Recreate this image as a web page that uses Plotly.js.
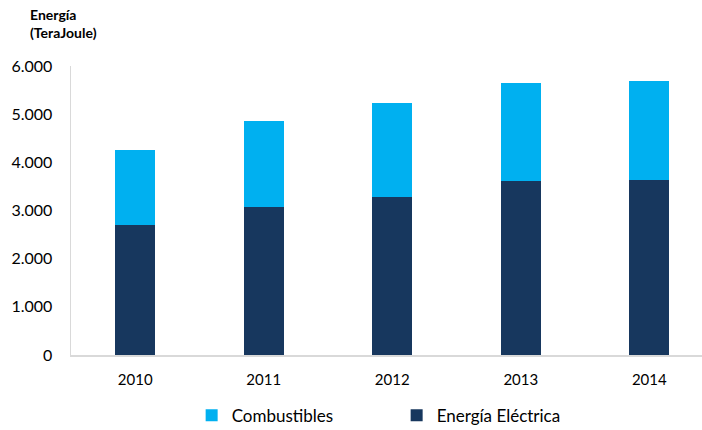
<!DOCTYPE html>
<html>
<head>
<meta charset="utf-8">
<script src="https://cdn.plot.ly/plotly-3.0.1.min.js"></script>
<style>html,body{margin:0;padding:0;background:#fff;}#chart{width:702px;height:430px;}</style>
</head>
<body>
<div id="chart"></div>
<script>
const years = ['2010', '2011', '2012', '2013', '2014'];
const energiaElectrica = [2700, 3070, 3270, 3610, 3630];
const combustibles = [1550, 1790, 1955, 2040, 2065];
const yTicks = [0, 1000, 2000, 3000, 4000, 5000, 6000];

const FONT = 'Lato, "Open Sans", sans-serif';

const traces = [
  {
    type: 'bar', name: 'Energía Eléctrica', x: years, y: energiaElectrica,
    marker: {color: '#17375E', line: {width: 0}}, hoverinfo: 'x+y'
  },
  {
    type: 'bar', name: 'Combustibles', x: years, y: combustibles,
    marker: {color: '#00B0F0', line: {width: 0}}, hoverinfo: 'x+y'
  }
];

const layout = {
  width: 702, height: 430,
  margin: {l: 71, r: 0, t: 66, b: 75},
  barmode: 'stack',
  bargap: 0.69,
  separators: ',.',
  paper_bgcolor: '#ffffff', plot_bgcolor: '#ffffff',
  font: {family: FONT, size: 15, color: '#000000'},
  xaxis: {
    type: 'category', range: [-0.5, 4.41],
    showline: true, linecolor: '#D9D9D9', linewidth: 1.5,
    ticks: '', showgrid: false, zeroline: false,
    ticklabelstandoff: 10,
    tickfont: {family: FONT, size: 15, color: '#000'}
  },
  yaxis: {
    range: [0, 6000], tickvals: yTicks, tickformat: ',d',
    showline: true, linecolor: '#D9D9D9', linewidth: 1.5,
    ticks: '', showgrid: false, zeroline: false,
    ticklabelstandoff: 14,
    tickfont: {family: FONT, size: 16, color: '#000'}
  },
  showlegend: true,
  legend: {
    orientation: 'h', traceorder: 'reversed',
    xref: 'container', yref: 'container',
    x: 0.273, xanchor: 'left', y: 0.033, yanchor: 'middle',
    entrywidth: 160, entrywidthmode: 'pixels',
    itemwidth: 30, bgcolor: 'rgba(0,0,0,0)',
    font: {family: FONT, size: 17, color: '#000'}
  },
  annotations: [
    {
      text: '<b>Energía<br>(TeraJoule)</b>', xref: 'paper', yref: 'paper',
      x: -0.068, y: 1.08, xanchor: 'left', yanchor: 'bottom', showarrow: false, align: 'left',
      font: {family: FONT, size: 14, color: '#000'}
    }
  ]
};

Plotly.newPlot('chart', traces, layout, {displayModeBar: false, staticPlot: true});
</script>
</body>
</html>
